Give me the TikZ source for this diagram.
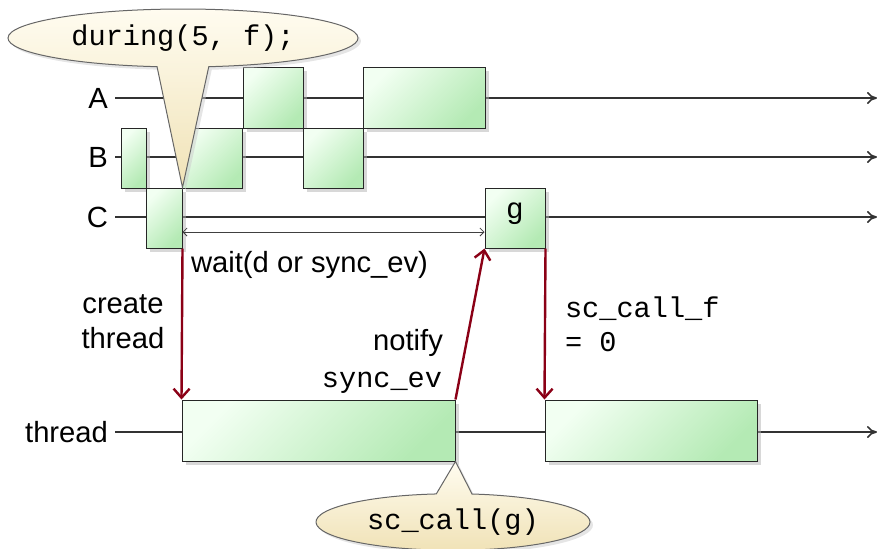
\documentclass[tikz,border=0pt]{standalone}
\usepackage{fontspec}
\setmainfont{Liberation Sans}
\setmonofont{Liberation Mono}
\usetikzlibrary{arrows.meta,shapes.callouts,shadows,fit}
\definecolor{evred}{RGB}{139,0,22}
\definecolor{slotlight}{RGB}{242,255,242}
\definecolor{slotdark}{RGB}{180,234,180}
\definecolor{notelight}{RGB}{255,252,240}
\definecolor{notedark}{RGB}{240,226,182}

\begin{document}
\begin{tikzpicture}[x=0.5pt, y=-0.5pt,
    font=\fontsize{14.6}{17.5}\selectfont,
    timeline/.style={draw=black!80, line width=0.8pt, -{To[length=5pt,width=6pt]}},
    slot/.style={draw=black!85, line width=0.5pt, inner sep=0pt,
      top color=slotlight, bottom color=slotdark, shading angle=45,
      drop shadow={shadow xshift=2pt, shadow yshift=-2pt, fill=black!30}},
    call/.style={draw=evred, line width=1.2pt, -{Straight Barb[length=4.5pt,width=8pt]}},
    waitspan/.style={draw=black!75, line width=0.4pt, {Straight Barb[length=2pt,width=4pt]}-{Straight Barb[length=2pt,width=4pt]}},
    note/.style={ellipse callout, draw=black!60, line width=0.5pt,
      top color=notelight, bottom color=notedark,
      drop shadow={shadow xshift=1.5pt, shadow yshift=-1.5pt, fill=black!20},
      font=\fontsize{14.3}{17}\ttfamily},
    code/.style={font=\fontsize{14.3}{17}\ttfamily}
  ]
  \useasboundingbox (0,0) rectangle (877,548);

  % time lines
  \node[anchor=east] (lA) at (115,98) {A};
  \node[anchor=east] (lB) at (115,157) {B};
  \node[anchor=east] (lC) at (115,217) {C};
  \node[anchor=east] (lT) at (115,432) {thread};
  \coordinate (endA) at (877,98);
  \coordinate (endB) at (877,157);
  \coordinate (endC) at (877,217);
  \coordinate (endT) at (877,432);
  \draw[timeline] (lA.east) -- (endA);
  \draw[timeline] (lB.east) -- (endB);
  \draw[timeline] (lC.east) -- (endC);
  \draw[timeline] (lT.east) -- (endT);

  % slots
  \node[slot, fit={(243,67) (303,128)}] (a1) {};
  \node[slot, fit={(363,67) (485,128)}] (a2) {};
  \node[slot, fit={(121,128) (146,188)}] (b1) {};
  \node[slot, fit={(182,128) (242,188)}] (b2) {};
  \node[slot, fit={(303,128) (363,188)}] (b3) {};
  \node[slot, fit={(146,188) (182,248)}] (c1) {};
  \node[slot, fit={(485,188) (545,248)}] (g) {};
  \node (glabel) at (515,214) {g};
  \node[slot, fit={(182,400) (455,461)}] (t1) {};
  \node[slot, fit={(545,400) (757,461)}] (t2) {};

  \draw[waitspan] ([yshift=-7pt]c1.east) -- ([yshift=-7pt]g.west);
  \node[anchor=west] (wait) at (184,265) {wait(d or sync\_ev)};

  % events
  \draw[call] (c1.south east) -- (t1.north west);
  \draw[call] (t1.north east) -- (g.south west);
  \draw[call] (g.south east) -- (t2.north west);
  \node[align=center] (create) at (123,322) {create\\thread};
  \node (notify) at (408,343) {notify};
  \node[code] (sync) at (382,383) {sync\_ev};
  \node[code, align=left, anchor=west] (scf) at (558,324) {sc\_call\_f\\= 0};

  % callouts
  \node[note, minimum width=175pt, minimum height=29pt, callout pointer arc=17,
    callout absolute pointer={(c1.north east)}] (during) at (183,38) {during(5, f);};
  \node[note, minimum width=137pt, minimum height=26pt,
    callout absolute pointer={(t1.south east)}] (sccall) at (453,522) {sc\_call(g)};
\end{tikzpicture}
\end{document}
